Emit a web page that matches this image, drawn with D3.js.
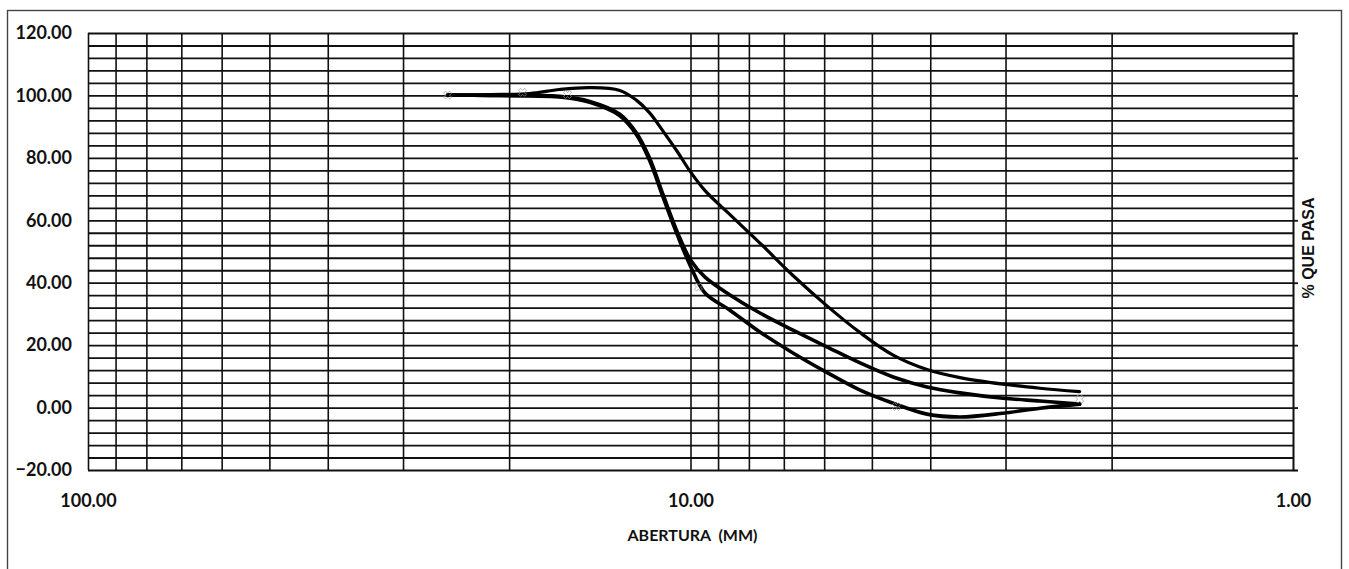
<!DOCTYPE html>
<html>
<head>
<meta charset="utf-8">
<script src="https://cdn.jsdelivr.net/npm/d3@7"></script>
<style>
  html, body { margin: 0; padding: 0; background: #fff; }
  svg { display: block; }
</style>
</head>
<body>
<svg id="chart" width="1349" height="569"></svg>
<script>
// ---- data ----
const aperture = [25.3, 21.5, 18.5, 16.5, 14.7, 13.1, 12.3, 11.7, 11.1, 10.5, 10.0, 9.46, 8.60, 7.67, 6.76, 5.93, 5.23, 4.61, 4.05, 3.57, 3.03, 2.63, 2.26];
const upperPass  = [100.1, 100.3, 100.6, 101.9, 102.5, 101.6, 98.5, 94.5, 88.5, 81.8, 75.5, 69.5, 61.8, 52.7, 42.3, 32.5, 24.0, 16.8, 12.2, 9.6, 7.5, 6.2, 5.1];
const samplePass = [100.1, 100.0, 100.0, 99.7, 98.1, 94.0, 88.0, 80.0, 68.1, 55.9, 47.3, 41.8, 36.1, 30.3, 24.8, 19.4, 14.3, 9.8, 6.6, 4.7, 3.0, 2.1, 1.1];
const lowerPass  = [100.1, 100.0, 99.8, 99.5, 97.8, 93.5, 87.5, 79.3, 67.3, 55.0, 45.3, 36.7, 31.2, 24.2, 17.5, 11.2, 5.6, 1.4, -2.1, -3.0, -1.8, -0.2, 1.1];
const markerX = [25.3, 19.0, 16.0, 9.7, 4.55, 2.26];
const markerY = [100.1, 101.0, 100.3, 38.6, 0.3, 2.7];

const xTicks = [100, 10, 1];
const xMinor = [90, 80, 70, 60, 50, 40, 30, 20, 9, 8, 7, 6, 5, 4, 3, 2];
const yTicks = [-20, 0, 20, 40, 60, 80, 100, 120];
const yMinor = d3.range(-20, 121, 4);

const xTitle = "ABERTURA  (MM)";
const yTitle = "% QUE PASA";

// ---- layout ----
const svg = d3.select("#chart");
const L = 88, R = 1293, T = 33, B = 470;
const x = d3.scaleLog().domain([100, 1]).range([L, R]);
const y = d3.scaleLinear().domain([-20, 120]).range([B, T]);
const gridColor = "#111";
const labelFont = "Lato, 'Open Sans', sans-serif";

// outer frame
svg.append("rect")
  .attr("x", 7.5).attr("y", 10.5).attr("width", 1334).attr("height", 600)
  .attr("fill", "none").attr("stroke", "#444").attr("stroke-width", 1.4);

// horizontal grid
const hGrid = svg.append("g").attr("transform", `translate(${L},0)`)
  .call(d3.axisLeft(y).tickValues(yMinor).tickSize(-(R - L)).tickFormat(""));
hGrid.select(".domain").remove();
hGrid.selectAll("line").attr("stroke", gridColor).attr("stroke-width", 1.8);

// vertical grid
const vGrid = svg.append("g").attr("transform", `translate(0,${B})`)
  .call(d3.axisBottom(x).tickValues(xTicks.concat(xMinor)).tickSize(-(B - T)).tickFormat(""));
vGrid.select(".domain").remove();
vGrid.selectAll("line").attr("stroke", gridColor).attr("stroke-width", 1.6);

// right tick marks for major values
const rTicks = svg.append("g").attr("transform", `translate(${R},0)`)
  .call(d3.axisRight(y).tickValues(yTicks).tickSize(5).tickFormat(""));
rTicks.select(".domain").attr("stroke", gridColor).attr("stroke-width", 1.6);
rTicks.selectAll("line").attr("stroke", gridColor).attr("stroke-width", 1.8);

// y axis labels
const yAxis = svg.append("g").attr("transform", `translate(${L},0)`)
  .call(d3.axisLeft(y).tickValues(yTicks).tickSize(0).tickPadding(16).tickFormat(d3.format(".2f")));
yAxis.select(".domain").remove();
yAxis.selectAll("text").attr("font-family", labelFont).attr("font-weight", 700)
  .attr("font-size", 18).attr("fill", "#111");

// x axis labels
const xAxis = svg.append("g").attr("transform", `translate(0,${B})`)
  .call(d3.axisBottom(x).tickValues(xTicks).tickSize(0).tickPadding(24).tickFormat(d3.format(".2f")));
xAxis.select(".domain").remove();
xAxis.selectAll("text").attr("font-family", labelFont).attr("font-weight", 700)
  .attr("font-size", 18).attr("fill", "#111");

// titles
svg.append("text").attr("x", (L + R) / 2 + 2).attr("y", 541)
  .attr("text-anchor", "middle").attr("font-family", labelFont).attr("font-weight", 700)
  .attr("font-size", 16).attr("fill", "#111").style("white-space", "pre").text(xTitle);
svg.append("text").attr("transform", "translate(1314,248) rotate(-90)")
  .attr("text-anchor", "middle").attr("font-family", "'Liberation Sans', Arial, sans-serif")
  .attr("font-weight", 700).attr("font-size", 16).attr("fill", "#111").text(yTitle);

// curves
const line = d3.line().x(d => x(d[0])).y(d => y(d[1])).curve(d3.curveCatmullRom.alpha(0.5));
const series = [
  { vals: upperPass, w: 3.2 },
  { vals: samplePass, w: 3.6 },
  { vals: lowerPass, w: 3.6 }
];
series.forEach(s => {
  svg.append("path")
    .datum(aperture.map((a, i) => [a, s.vals[i]]))
    .attr("d", line)
    .attr("fill", "none").attr("stroke", "#000")
    .attr("stroke-width", s.w).attr("stroke-linejoin", "round").attr("stroke-linecap", "round");
});

// faint point markers
const sym = d3.symbol().type(d3.symbolCross).size(40);
svg.append("g").selectAll("path").data(markerX.map((m, i) => [m, markerY[i]]))
  .join("path")
  .attr("d", sym)
  .attr("transform", d => `translate(${x(d[0])},${y(d[1])}) rotate(45)`)
  .attr("fill", "none").attr("stroke", "#999").attr("stroke-width", 0.7);
</script>
</body>
</html>
